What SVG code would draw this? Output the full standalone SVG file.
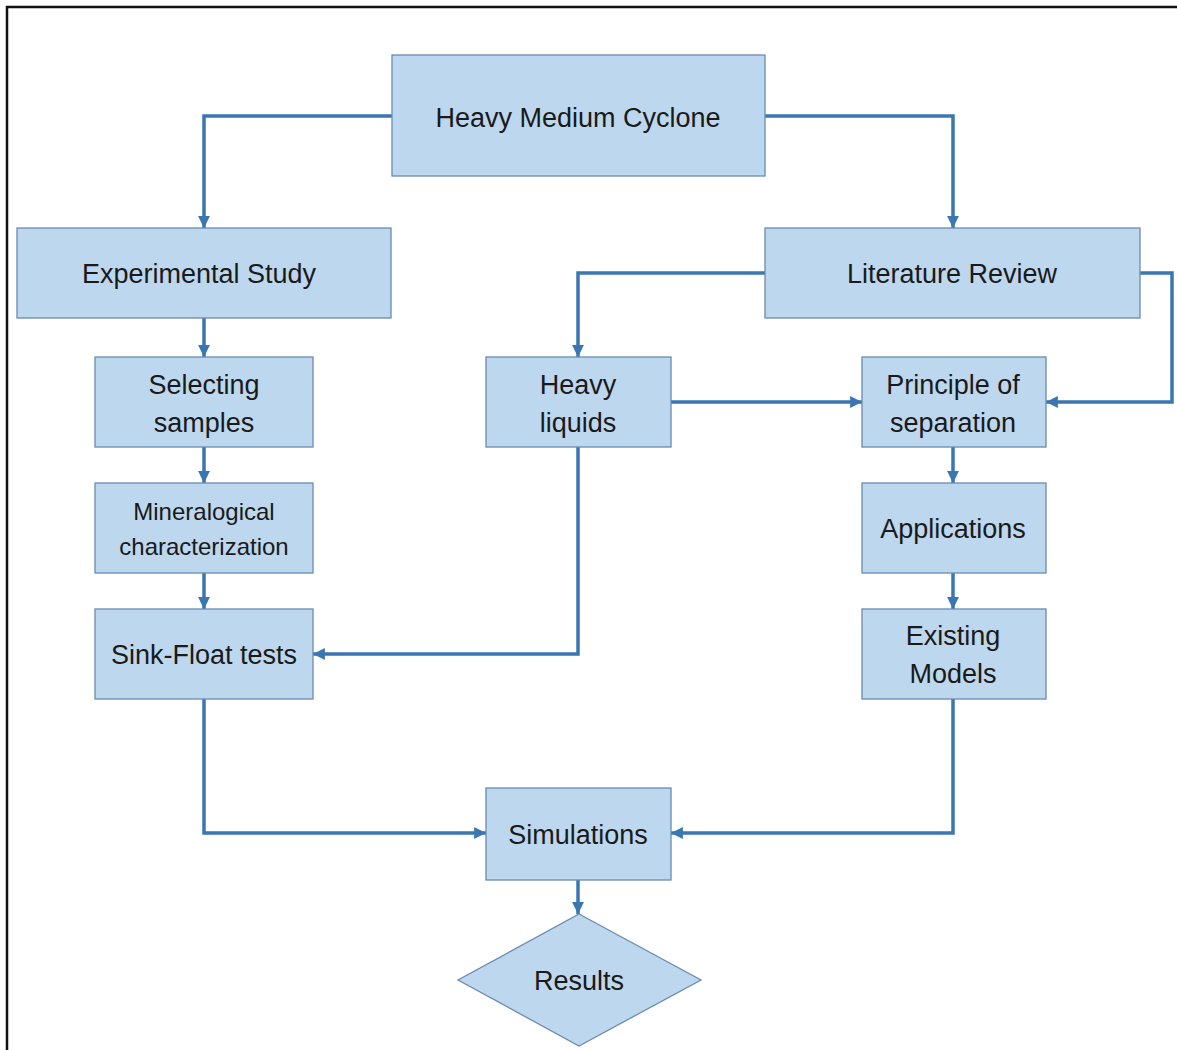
<svg xmlns="http://www.w3.org/2000/svg" width="1177" height="1050" viewBox="0 0 1177 1050">
<style>
.box{fill:#BDD7EE;stroke:#6A8BB0;stroke-width:1.3}
.t{font-family:"Liberation Sans",Arial,sans-serif;font-size:27px;fill:#1a1a1a;text-anchor:middle}
.ts{font-size:24px}
.c{fill:none;stroke:#3A76B1;stroke-width:3.5;marker-end:url(#ah)}
</style>
<defs>
<marker id="ah" viewBox="0 0 10 10" refX="10" refY="5" markerWidth="3.4" markerHeight="3.4" orient="auto" markerUnits="strokeWidth">
<path d="M0,0 L10,5 L0,10 z" fill="#3A76B1"/>
</marker>
</defs>
<rect width="1177" height="1050" fill="#ffffff"/>
<path d="M7,1050 V7 H1177" fill="none" stroke="#111" stroke-width="2.5"/>
<g id="connectors">
<path class="c" d="M392,116 H204 V228"/>
<path class="c" d="M765,116 H953 V228"/>
<path class="c" d="M765,273 H578 V357"/>
<path class="c" d="M1140,273 H1172 V402 H1046"/>
<path class="c" d="M671,402 H862"/>
<path class="c" d="M578,447 V654 H313"/>
<path class="c" d="M204,318 V357"/>
<path class="c" d="M204,447 V483"/>
<path class="c" d="M204,573 V609"/>
<path class="c" d="M953,447 V483"/>
<path class="c" d="M953,573 V609"/>
<path class="c" d="M204,699 V833 H486"/>
<path class="c" d="M953,699 V833 H671"/>
<path class="c" d="M578,880 V914"/>
</g>
<g id="hmc"><rect class="box" x="392" y="55" width="373" height="121"/><text class="t" x="578" y="127">Heavy Medium Cyclone</text></g>
<g id="exp"><rect class="box" x="17" y="228" width="374" height="90"/><text class="t" x="199" y="283">Experimental Study</text></g>
<g id="lit"><rect class="box" x="765" y="228" width="375" height="90"/><text class="t" x="952" y="283">Literature Review</text></g>
<g id="sel"><rect class="box" x="95" y="357" width="218" height="90"/><text class="t" x="204" y="394">Selecting</text><text class="t" x="204" y="432">samples</text></g>
<g id="min"><rect class="box" x="95" y="483" width="218" height="90"/><text class="t ts" x="204" y="520">Mineralogical</text><text class="t ts" x="204" y="555">characterization</text></g>
<g id="sink"><rect class="box" x="95" y="609" width="218" height="90"/><text class="t" x="204" y="664">Sink-Float tests</text></g>
<g id="hl"><rect class="box" x="486" y="357" width="185" height="90"/><text class="t" x="578" y="394">Heavy</text><text class="t" x="578" y="432">liquids</text></g>
<g id="pos"><rect class="box" x="862" y="357" width="184" height="90"/><text class="t" x="953" y="394">Principle of</text><text class="t" x="953" y="432">separation</text></g>
<g id="app"><rect class="box" x="862" y="483" width="184" height="90"/><text class="t" x="953" y="538">Applications</text></g>
<g id="em"><rect class="box" x="862" y="609" width="184" height="90"/><text class="t" x="953" y="645">Existing</text><text class="t" x="953" y="683">Models</text></g>
<g id="sim"><rect class="box" x="486" y="788" width="185" height="92"/><text class="t" x="578" y="844">Simulations</text></g>
<g id="res"><polygon class="box" points="579,914 701,980 579,1046 458,980"/><text class="t" x="579" y="990">Results</text></g>
</svg>
